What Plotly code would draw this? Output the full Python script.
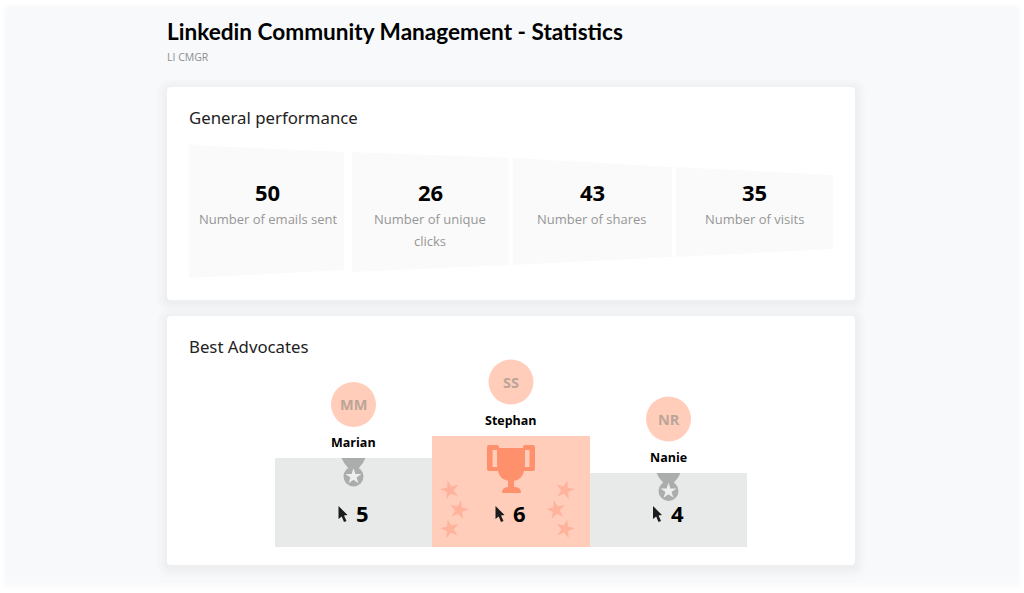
import plotly.graph_objects as go

report_title = "Linkedin Community Management - Statistics"
report_subtitle = "LI CMGR"
section_titles = ["General performance", "Best Advocates"]

kpi_values = [50, 26, 43, 35]
kpi_labels = [["Number of emails sent"], ["Number of unique", "clicks"],
              ["Number of shares"], ["Number of visits"]]

advocates = ["Marian", "Stephan", "Nanie"]
initials = ["MM", "SS", "NR"]
clicks = [5, 6, 4]
# podium height as drawn, a little off the click count for Marian
podium_levels = [4.8, 6, 4]

PEACH = "#FFCDB9"
CORAL = "#FF906C"
GREY_BAR = "#E8E9E9"
GREY_ICON = "#ABADAD"
FONT = "Open Sans"


def rounded(x0, y0, x1, y1, r):
    return (f"M{x0+r},{y0} L{x1-r},{y0} Q{x1},{y0} {x1},{y0+r} L{x1},{y1-r} Q{x1},{y1} {x1-r},{y1} "
            f"L{x0+r},{y1} Q{x0},{y1} {x0},{y1-r} L{x0},{y0+r} Q{x0},{y0} {x0+r},{y0} Z")


def panel(x0, y0, x1, y1, r=4, spread=10, fill="white"):
    # soft shadow built from stacked translucent rectangles
    out = []
    for i in range(spread, 0, -2):
        out.append(dict(type="path", path=rounded(x0 - i, y0 - i + 2, x1 + i, y1 + i + 2, r + i),
                        fillcolor="rgba(90,100,120,0.012)", line_width=0, layer="below",
                        xref="x", yref="y"))
    out.append(dict(type="path", path=rounded(x0, y0, x1, y1, r), fillcolor=fill, line_width=0,
                    layer="below", xref="x", yref="y"))
    return out


def icon(path, color):
    return dict(type="path", path=path, fillcolor=color, line_width=0, layer="above", xref="x", yref="y")


def cursor(x, y):
    return icon(f"M{x},{y} L{x+9},{y+9} L{x+5.5},{y+9.5} L{x+8},{y+15} L{x+5.5},{y+16} "
                f"L{x+3.2},{y+10.5} L{x},{y+13} Z", "#1c1c1c")


def ribbon(cx, top, cy):
    return icon(f"M{cx-12},{top} L{cx+12},{top} Q{cx+10},{top+5} {cx+5},{cy-8} L{cx-5},{cy-8} "
                f"Q{cx-10},{top+5} {cx-12},{top} Z", GREY_ICON)


shapes = []
shapes += panel(6, 6, 1018, 583, r=6, spread=4, fill="#F7F9FB")
shapes += panel(167, 87, 855, 300)
shapes += panel(167, 316, 855, 565)

# skewed kpi tiles
tiles = [(189, 145, 344, 152, 270, 278), (352, 152, 509, 158, 265, 272),
         (513, 158, 672, 167, 257, 265), (676, 167, 833, 175, 249, 257)]
for x0, tl, x1, tr, br, bl in tiles:
    shapes.append(dict(type="path", path=f"M{x0},{tl} L{x1},{tr} L{x1},{br} L{x0},{bl} Z",
                       fillcolor="#FAFAFA", line_width=0, layer="below", xref="x", yref="y"))

shapes += [ribbon(353.5, 458, 476.5), ribbon(668.5, 473, 491)]

# trophy: handles with holes, then cup, stem and foot
shapes += [
    icon(rounded(487, 445, 499, 471, 2), CORAL),
    icon(rounded(523, 445, 535, 471, 2), CORAL),
    icon("M492.5,450 L498,450 L498,467 L492.5,467 Z", PEACH),
    icon("M524,450 L529.5,450 L529.5,467 L524,467 Z", PEACH),
    icon("M497,448 L525,448 L525,463 Q525,481 511,481 Q497,481 497,463 Z", CORAL),
    icon("M508,478 L514,478 L514,488 L508,488 Z", CORAL),
    icon("M502,493 Q502,487 508,487 L515,487 Q521,487 521,493 Z", CORAL),
]

shapes += [cursor(338.5, 506), cursor(495.5, 506), cursor(653, 506)]

fig = go.Figure()

# avatars on the base axes, under everything else
avatar_x = [353.5, 511, 668.5]
avatar_y = [404.5, 382, 419]
fig.add_scatter(x=avatar_x, y=avatar_y, mode="markers",
                marker=dict(symbol="circle", size=45, color=PEACH, line_width=0),
                hoverinfo="skip", showlegend=False)

# podium
fig.add_bar(x=advocates, y=podium_levels, xaxis="x2", yaxis="y2", width=1,
            marker=dict(color=[GREY_BAR, PEACH, GREY_BAR], line_width=0), hoverinfo="skip",
            showlegend=False)

# stars and medal discs sit on a third overlay so the bars do not cover them
fig.add_scatter(x=[450, 459, 450, 565, 556, 565], y=[490, 510, 529, 490, 510, 529], mode="markers",
                xaxis="x3", yaxis="y3",
                marker=dict(symbol="star", size=14, color="#FFB29C", line_width=0,
                            angle=[-14, 12, -14, 14, -12, 14]),
                hoverinfo="skip", showlegend=False)
fig.add_scatter(x=[353.5, 668.5], y=[476.5, 491], mode="markers", xaxis="x3", yaxis="y3",
                marker=dict(symbol="circle", size=20, color=GREY_ICON, line_width=0),
                hoverinfo="skip", showlegend=False)
fig.add_scatter(x=[353.5, 668.5], y=[476.5, 491], mode="markers", xaxis="x3", yaxis="y3",
                marker=dict(symbol="star", size=12, color="#EEEEEE", line_width=0),
                hoverinfo="skip", showlegend=False)

ann = []


def text(x, y, s, size, color="black", weight=400, anchor="center", family=FONT):
    ann.append(dict(x=x, y=y, xref="x", yref="y", text=s, showarrow=False, xanchor=anchor, yanchor="middle",
                    font=dict(size=size, color=color, family=family, weight=weight)))


text(165, 31, report_title, 22.6, weight=700, anchor="left", family="Lato")
text(165, 57, report_subtitle, 10.5, color="#8e8e8e", anchor="left")
text(187, 117.5, section_titles[0], 16.8, color="#222222", anchor="left", family="Noto Sans")
text(187, 346, section_titles[1], 16.8, color="#222222", anchor="left", family="Noto Sans")

kpi_centers = [267.5, 430, 592, 754]
for cx, val, lines in zip(kpi_centers, kpi_values, kpi_labels):
    text(cx, 191.5, str(val), 22, weight=700)
    for i, line in enumerate(lines):
        text(cx, 219 + 22 * i, line, 13, color="#969696")

name_y = [442, 420, 457]
click_x = [362, 519, 677]
for cx, cy, ini, name, ny, cnt, tx in zip(avatar_x, avatar_y, initials, advocates, name_y, clicks, click_x):
    text(cx, cy, ini, 14.5, color="#BBA599", weight=700)
    text(cx, ny, name, 12.5, weight=700)
    text(tx, 512.5, str(cnt), 22, weight=700)

pixel_x = dict(range=[0, 1024], visible=False, fixedrange=True)
pixel_y = dict(range=[593, 0], visible=False, fixedrange=True)

fig.update_layout(
    width=1024, height=593, margin=dict(l=0, r=0, t=0, b=0, pad=0),
    paper_bgcolor="white", plot_bgcolor="rgba(0,0,0,0)",
    xaxis=pixel_x, yaxis=pixel_y,
    xaxis2=dict(domain=[275 / 1024, 747 / 1024], anchor="y2", type="category", visible=False,
                categoryorder="array", categoryarray=advocates),
    yaxis2=dict(domain=[(593 - 547) / 593, (593 - 436) / 593], anchor="x2", range=[0, 6], visible=False),
    xaxis3=dict(anchor="y3", **pixel_x), yaxis3=dict(anchor="x3", **pixel_y),
    bargap=0, shapes=shapes, annotations=ann, showlegend=False,
)

fig.write_html("out.html", post_script="document.body.style.margin='0';", config={"displayModeBar": False})
